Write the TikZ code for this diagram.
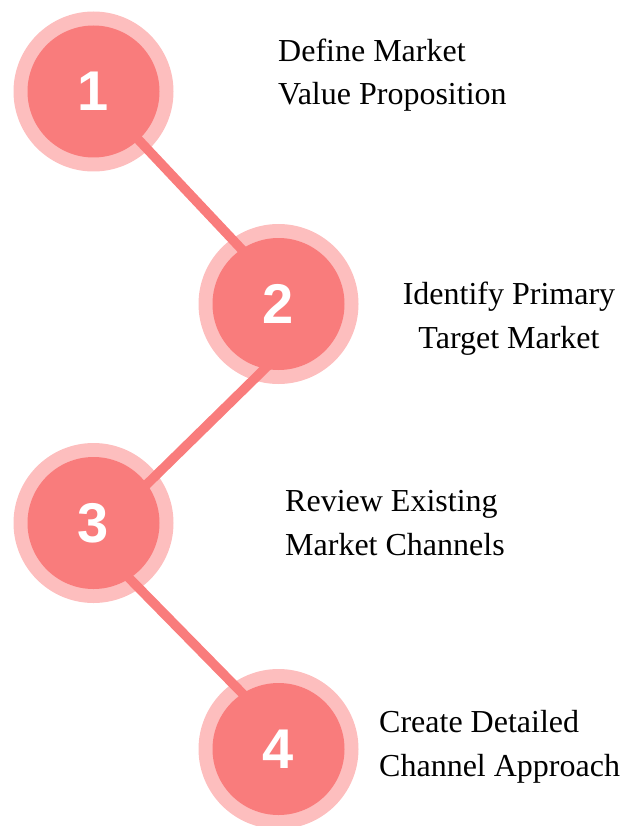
\documentclass[tikz,border=0pt]{standalone}
\usepackage{fontspec}
\setmainfont{Liberation Serif}
\newfontfamily\numfont{Liberation Sans}
\usetikzlibrary{positioning, backgrounds}

\definecolor{coral}{HTML}{F97C7C}
\definecolor{blush}{HTML}{FDBEBE}

\pgfdeclarelayer{halo}
\pgfsetlayers{halo,background,main}

\tikzset{
	stepdisc/.style={circle, fill=coral, inner sep=0pt, minimum size=132pt,
		text=white, font=\numfont\bfseries\fontsize{56}{56}\selectfont},
	halo/.style={circle, fill=blush, inner sep=0pt, minimum size=160pt},
	link/.style={draw=coral, line width=9.5pt, shorten <=-8pt, shorten >=-8pt},
	caption/.style={inner sep=0pt, align=left, font=\fontsize{32}{43.5}\selectfont}
}

\begin{document}
\begin{tikzpicture}[x=1pt, y=1pt]
		
		\useasboundingbox (0,0) rectangle (637,-826);
		
		%i quattro passi
		\node (one) at (93.5,-91.5) [stepdisc] {1};
		\node (two) at (278.5,-304) [stepdisc] {2};
		\node (three) at (93.5,-523) [stepdisc] {3};
		\node (four) at (278.5,-749) [stepdisc] {4};
		
		%aloni chiari dietro i cerchi
		\begin{pgfonlayer}{halo}
		\node (haloOne) at (one) [halo] {};
		\node (haloTwo) at (two) [halo] {};
		\node (haloThree) at (three) [halo] {};
		\node (haloFour) at (four) [halo] {};
		\end{pgfonlayer}
		
		%collegamenti tra i passi
		\begin{pgfonlayer}{background}
		\draw[link] (one.-47) -- (two.124);
		\draw[link] (two.-102) -- (three.36);
		\draw[link] (three.-57) -- (four.123);
		\end{pgfonlayer}
		
		%descrizioni (ancorate alla base dell'ultima riga)
		\node (defineText) at (278,-105) [caption, anchor=base west] {Define Market\\Value Proposition};
		\node (identifyText) at (509,-348) [caption, anchor=base, align=center] {Identify Primary\\Target Market};
		\node (reviewText) at (285,-555) [caption, anchor=base west] {Review Existing\\Market Channels};
		\node (createText) at (379,-776) [caption, anchor=base west] {Create Detailed\\Channel Approach};
		
\end{tikzpicture}
\end{document}
